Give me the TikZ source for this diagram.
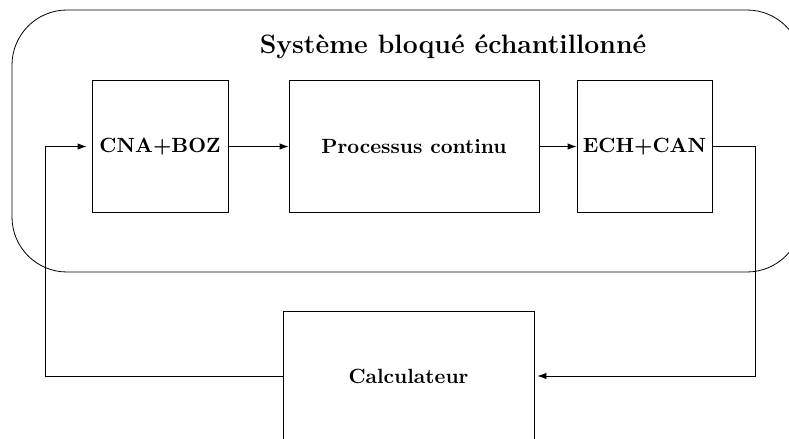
\documentclass[tikz,border=0pt]{standalone}
\usetikzlibrary{arrows.meta}
\begin{document}
\begin{tikzpicture}[x=0.5pt,y=-0.5pt,
  blockbox/.style={draw, inner sep=0pt, font=\fontsize{10.3}{12}\selectfont\bfseries},
  arr/.style={-{Latex[length=4.5pt,width=3.2pt]}}]
\useasboundingbox (0,0) rectangle (789,439);
\clip (0,0) rectangle (789,439);
% outer rounded frame
\draw[rounded corners=27.5pt] (12,10) rectangle (802,272);
\node[font=\fontsize{13.3}{15}\selectfont\bfseries] (title) at (453,47) {Système bloqué échantillonné};
% blocks
\node[blockbox, minimum width=68pt, minimum height=66pt] (cna) at (160,146.5) {CNA+BOZ};
\node[blockbox, minimum width=125pt, minimum height=66pt] (proc) at (414,146.5) {Processus continu};
\node[blockbox, minimum width=67.5pt, minimum height=66pt] (ech) at (644.5,146.5) {ECH+CAN};
\node[blockbox, minimum width=125.5pt, minimum height=65pt] (calc) at (408.5,376) {Calculateur};
% corner coordinates
\coordinate (rtop) at (755,146.5);
\coordinate (rbot) at (755,376);
\coordinate (lbot) at (45,376);
\coordinate (ltop) at (45,146.5);
% connectors
\draw[arr] (cna.east) -- (proc.west);
\draw[arr] (proc.east) -- (ech.west);
\draw[arr, shorten >=1.5pt] (ech.east) -- (rtop) -- (rbot) -- (calc.east);
\draw[arr, shorten >=2.5pt] (calc.west) -- (lbot) -- (ltop) -- (cna.west);
\end{tikzpicture}
\end{document}
